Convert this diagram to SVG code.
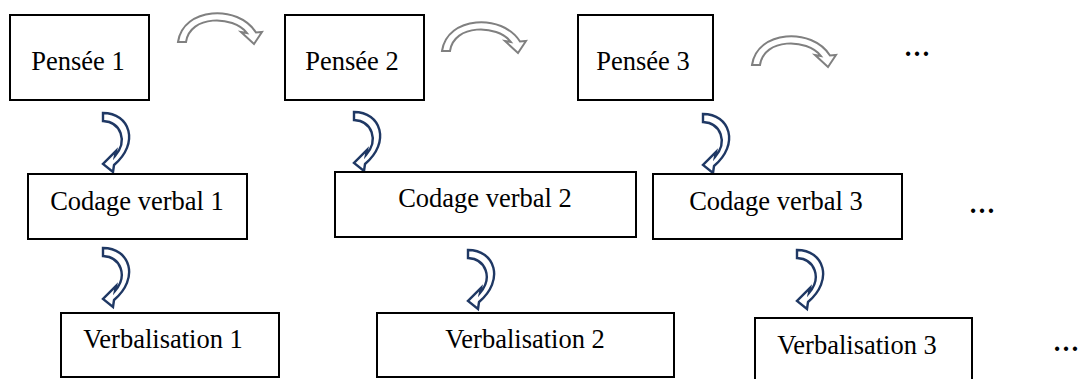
<svg xmlns="http://www.w3.org/2000/svg" xmlns:xlink="http://www.w3.org/1999/xlink" width="1081" height="379" viewBox="0 0 1081 379">
<defs>
<style>
.box{fill:#fff;stroke:#000;stroke-width:2}
text{font-family:'Liberation Serif', 'Times New Roman', serif;font-size:26.5px;fill:#000;text-anchor:middle}
.g{fill:#fff;stroke:#808080;stroke-width:2;stroke-linejoin:miter}
.n{fill:#fff;stroke:#1f3864;stroke-width:2.4;stroke-linejoin:miter}
</style>
<path id="garrow" d="M0,28 C5,-7 60,-10 78,18.5 L84,18 L76,30 L63,18 L69,19 C55,1 12,1 8,28 Z"/>
<path id="narrow" d="M0,0 C27,0 37,30 11,52 L10,59 L0,51 L13,38 L12,43 C25,28 18,9 0,8 Z"/>
</defs>
<rect width="1081" height="379" fill="#fff"/>
<g id="connectors">
<use xlink:href="#garrow" class="g" x="178" y="14"/>
<use xlink:href="#garrow" class="g" x="442" y="23"/>
<use xlink:href="#garrow" class="g" x="752" y="37"/>
<use xlink:href="#narrow" class="n" x="103" y="113"/>
<use xlink:href="#narrow" class="n" x="354" y="112"/>
<use xlink:href="#narrow" class="n" x="703" y="114"/>
<use xlink:href="#narrow" class="n" x="103" y="248"/>
<use xlink:href="#narrow" class="n" x="468" y="250"/>
<use xlink:href="#narrow" class="n" x="797" y="250"/>
</g>
<g font-family="Liberation Serif, serif" font-size="26.5">
<g id="pensee1"><rect class="box" x="10" y="15" width="139" height="85"/><text x="78" y="70">Pensée 1</text></g>
<g id="pensee2"><rect class="box" x="285" y="15" width="139" height="85"/><text x="352" y="70">Pensée 2</text></g>
<g id="pensee3"><rect class="box" x="578" y="15" width="135" height="85"/><text x="643" y="70">Pensée 3</text></g>
<g id="codage1"><rect class="box" x="28" y="174" width="219" height="65"/><text x="137" y="210">Codage verbal 1</text></g>
<g id="codage2"><rect class="box" x="335" y="172" width="301" height="65"/><text x="485" y="207">Codage verbal 2</text></g>
<g id="codage3"><rect class="box" x="653" y="174" width="249" height="65"/><text x="776" y="210">Codage verbal 3</text></g>
<g id="verb1"><rect class="box" x="61" y="313" width="218" height="64"/><text x="163" y="348">Verbalisation 1</text></g>
<g id="verb2"><rect class="box" x="377" y="313" width="297" height="64"/><text x="525" y="348">Verbalisation 2</text></g>
<g id="verb3"><rect class="box" x="755" y="318" width="217" height="70"/><text x="857" y="354">Verbalisation 3</text></g>
<g id="dots" font-weight="bold">
<text x="917" y="56">…</text>
<text x="982" y="213">…</text>
<text x="1066" y="351">…</text>
</g>
</g>
</svg>
